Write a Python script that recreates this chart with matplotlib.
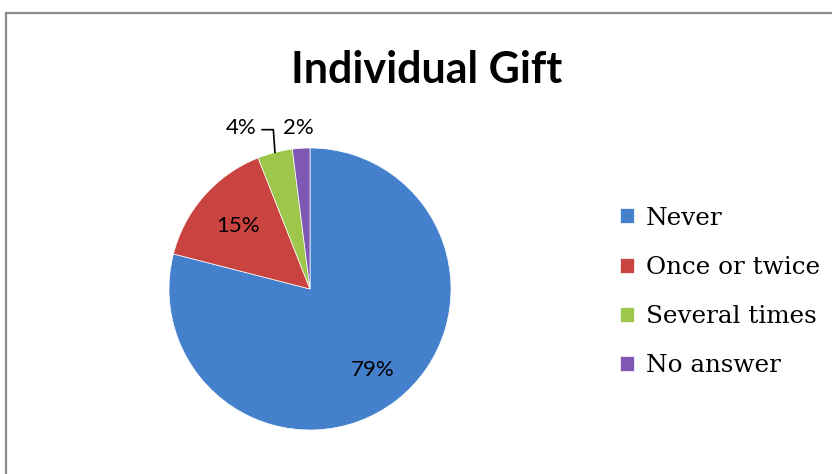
#!/usr/bin/env python3
'''
plot.py - pie chart "Individual Gift"
'''

import numpy as np
import matplotlib
matplotlib.use('Agg')
from matplotlib import pyplot as plt
from matplotlib.patches import Rectangle

#
#   Data
#
categories = ['Never', 'Once or twice', 'Several times', 'No answer']
percents = [79, 15, 4, 2]
colours = ['#4480cc', '#c94440', '#9dc74a', '#7e58b2']

title = 'Individual Gift'

fig = plt.figure(figsize=(8.32, 4.74), dpi=100)

# Border round the chart area (runs off the right and bottom edges)
fig.patches.append(Rectangle((6 / 832, -0.05), 1.2, 1 - 13 / 474 + 0.05,
                             transform=fig.transFigure, fill=False,
                             edgecolor='#8c8c8c', linewidth=1.6))

# Pie axes: centre (310, 289) px, radius 141 px
ax = fig.add_axes([169 / 832, 44 / 474, 282 / 832, 282 / 474])
wedges, _ = ax.pie(percents, colors=colours, startangle=90,
                   counterclock=False,
                   wedgeprops=dict(edgecolor='#ffffff', linewidth=0.5))
ax.set_xlim(-1, 1)
ax.set_ylim(-1, 1)
ax.set_aspect('equal')

label_font = dict(family='Lato', fontsize=16, color='black')

# Labels inside the two large wedges
for w, p, d in zip(wedges[:2], percents[:2], [0.73, 0.68]):
    mid = np.deg2rad((w.theta1 + w.theta2) / 2)
    ax.text(d * np.cos(mid), d * np.sin(mid), '{}%'.format(p),
            ha='center', va='center', **label_font)

# Small wedges: labels above the pie, the 4% one with a leader line
w3 = wedges[2]
mid3 = np.deg2rad((w3.theta1 + w3.theta2) / 2)
ax.text(-0.49, 1.14, '{}%'.format(percents[2]),
        ha='center', va='center', **label_font)
ax.plot([-0.34, -0.26, np.cos(mid3)], [1.13, 1.13, np.sin(mid3)],
        color='black', linewidth=1.2, clip_on=False)
ax.text(-0.08, 1.14, '{}%'.format(percents[3]),
        ha='center', va='center', **label_font)

# Title
fig.text(427 / 832, 1 - 70 / 474, title, ha='center', va='center',
         family='Lato', fontweight='bold', fontsize=31)

# Legend
leg = fig.legend(wedges, categories, loc='center left',
                 bbox_to_anchor=(598 / 832, 1 - 292 / 474), frameon=False,
                 prop=dict(family='DejaVu Serif', size=17.7),
                 handlelength=0.55, handleheight=0.55, handletextpad=0.5,
                 labelspacing=1.07)

fig.savefig('out.png', dpi=100)
